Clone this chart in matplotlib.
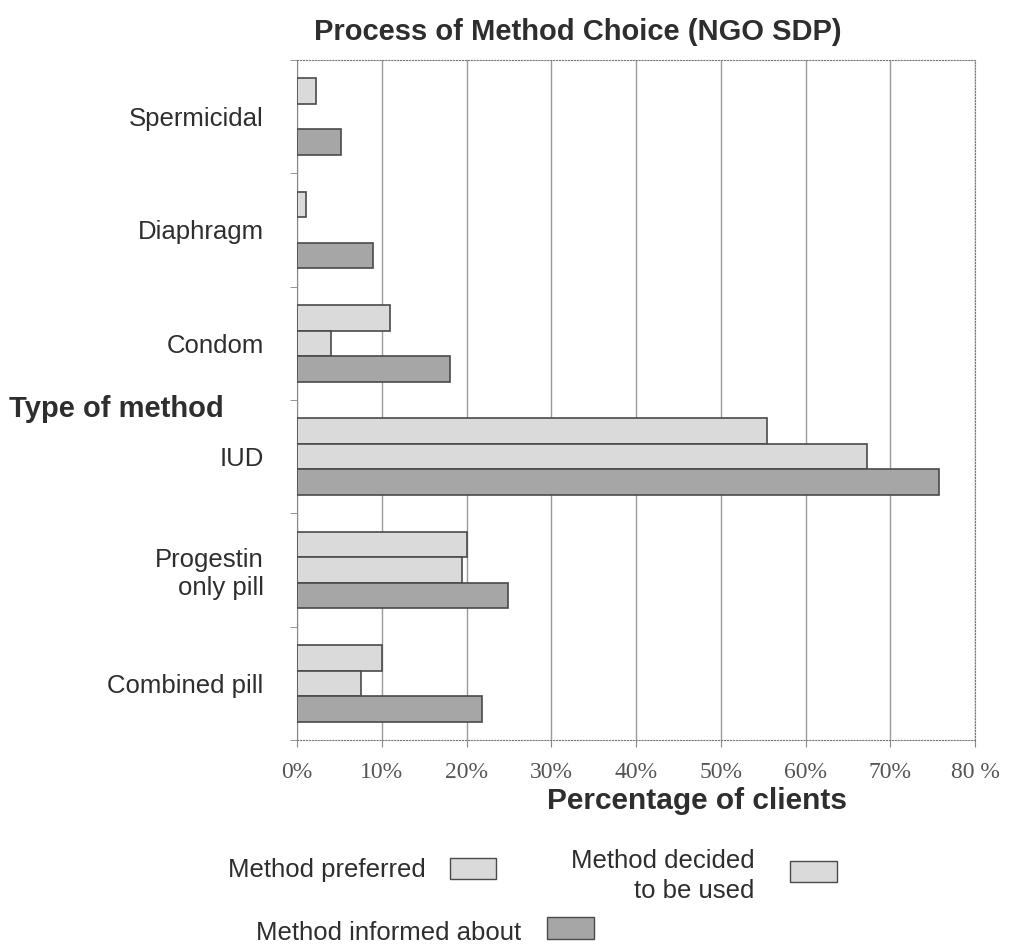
import matplotlib.pyplot as plt
from matplotlib.patches import Rectangle

plt.rcParams['font.family'] = ['Liberation Sans', 'DejaVu Sans']

# survey results, percent of clients
methods = ["Spermicidal", "Diaphragm", "Condom", "IUD",
           "Progestin\nonly pill", "Combined pill"]
preferred = [2.2, 1.1, 11.0, 55.5, 20.1, 10.0]
decided = [0.0, 0.0, 4.0, 67.2, 19.5, 7.5]
informed = [5.2, 9.0, 18.0, 75.8, 24.9, 21.8]

x_ticks = [0, 10, 20, 30, 40, 50, 60, 70, 80]
x_ticklabels = ["0%", "10%", "20%", "30%", "40%", "50%", "60%", "70%", "80 %"]

light = "#dadada"
dark = "#a6a6a6"
edge = "#4a4a4a"
txt = "#2e2e2e"

fig = plt.figure(figsize=(10.13, 9.46), dpi=100)
ax = fig.add_axes([0.2932, 0.2178, 0.6693, 0.7188])

h = 0.225
series = [(preferred, light, -h), (decided, light, 0.0), (informed, dark, h)]
for vals, col, off in series:
    ys = [i + off for i, v in enumerate(vals) if v > 0]
    ws = [v for v in vals if v > 0]
    ax.barh(ys, ws, height=h, color=col, edgecolor=edge, linewidth=1.2, zorder=3)

ax.set_xlim(0, 80)
ax.set_ylim(len(methods) - 0.5, -0.5)

# gridlines and borders
ax.set_xticks(x_ticks)
ax.set_xticklabels(x_ticklabels, family='Liberation Serif', fontsize=17, color="#555555")
ax.tick_params(axis='x', length=5, color="#888888", pad=11)
ax.grid(axis='x', color="#9a9a9a", linewidth=1.0, zorder=0)

ax.set_yticks(range(len(methods)))
ax.set_yticklabels(methods, fontsize=18.5, color=txt, ha='right', multialignment='right')
ax.tick_params(axis='y', length=0, pad=24)
ax.set_yticks([i - 0.5 for i in range(len(methods) + 1)], minor=True)
ax.tick_params(axis='y', which='minor', length=5, color="#888888")

for side in ['top', 'right', 'bottom']:
    ax.spines[side].set_linestyle(':')
    ax.spines[side].set_color("#777777")
ax.spines['left'].set_color("#888888")

fig.text(0.57, 0.966, "Process of Method Choice (NGO SDP)", ha='center', va='center',
         fontsize=21, fontweight='bold', color=txt)
fig.text(0.688, 0.153, "Percentage of clients", ha='center', va='center',
         fontsize=21.5, fontweight='bold', color=txt)
fig.text(0.009, 0.568, "Type of method", ha='left', va='center',
         fontsize=21, fontweight='bold', color=txt)

# legend drawn by hand under the axes
fig.text(0.42, 0.080, "Method preferred", ha='right', va='center', fontsize=18.5, color=txt)
fig.patches.append(Rectangle((0.444, 0.071), 0.046, 0.022, transform=fig.transFigure,
                             facecolor=light, edgecolor=edge, linewidth=1.0))
fig.text(0.745, 0.074, "Method decided\nto be used", ha='right', va='center',
         fontsize=18.5, color=txt, linespacing=1.35, multialignment='right')
fig.patches.append(Rectangle((0.780, 0.068), 0.046, 0.022, transform=fig.transFigure,
                             facecolor=light, edgecolor=edge, linewidth=1.0))
fig.text(0.514, 0.014, "Method informed about", ha='right', va='center', fontsize=18.5, color=txt)
fig.patches.append(Rectangle((0.540, 0.007), 0.046, 0.024, transform=fig.transFigure,
                             facecolor=dark, edgecolor=edge, linewidth=1.0))

fig.savefig("out.png", dpi=100, facecolor='white')
